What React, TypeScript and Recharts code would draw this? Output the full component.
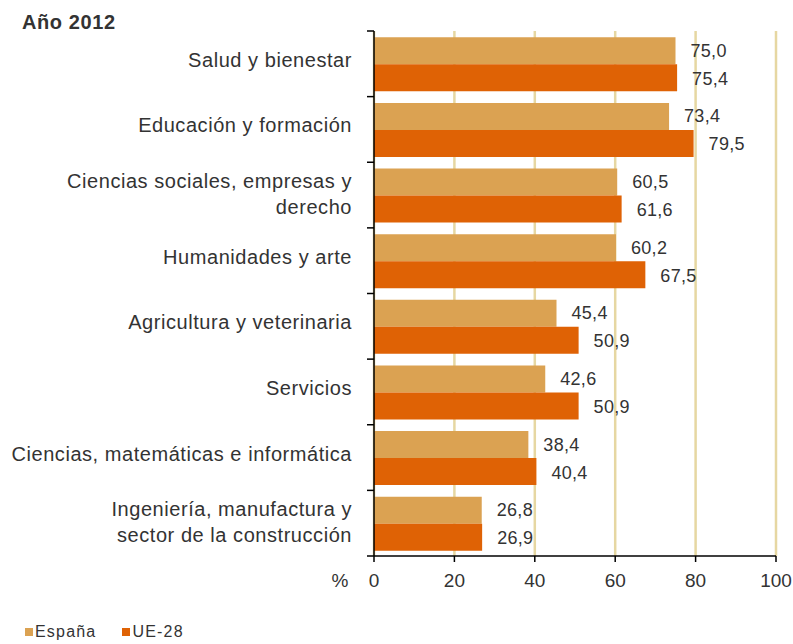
import React from "react";
import { BarChart, Bar, XAxis, YAxis, CartesianGrid, LabelList } from "recharts";

const categories = [
  "Salud y bienestar",
  "Educación y formación",
  "Ciencias sociales, empresas y\nderecho",
  "Humanidades y arte",
  "Agricultura y veterinaria",
  "Servicios",
  "Ciencias, matemáticas e informática",
  "Ingeniería, manufactura y\nsector de la construcción",
];
const espana = [75.0, 73.4, 60.5, 60.2, 45.4, 42.6, 38.4, 26.8];
const ue28 = [75.4, 79.5, 61.6, 67.5, 50.9, 50.9, 40.4, 26.9];
const xTicks = [0, 20, 40, 60, 80, 100];
const seriesNames = { espana: "España", ue28: "UE-28" };
const title = "Año 2012";

const data = categories.map((name, i) => ({ name, espana: espana[i], ue28: ue28[i] }));

const W = 793;
const H = 644;
const TOP = 31;
const BOTTOM_AXIS = 556;
const LEFT = 374;
const RIGHT = 776;
const X_AXIS_H = 40;
const BAND = (BOTTOM_AXIS - TOP) / categories.length;

const FONT = "'Liberation Sans', Arial, sans-serif";
const TEXT = "#333333";
const C_ES = "#DBA252";
const C_UE = "#DF6205";
const GRID = "#E6D7A2";

const fmt = (v: number) => v.toFixed(1).replace(".", ",");

const CategoryTick = (props: any) => {
  const { y, payload, index } = props;
  const lines: string[] = String(payload.value).split("\n");
  const textX = LEFT - 22;
  const ticks = [y - BAND / 2];
  if (index === categories.length - 1) ticks.push(y + BAND / 2);
  return (
    <g>
      {ticks.map((ty, k) => (
        <line key={k} x1={LEFT - 7} x2={LEFT} y1={ty} y2={ty} stroke="#000" strokeWidth={1.5} />
      ))}
      {lines.length === 1 ? (
        <text x={textX} y={y + 3} textAnchor="end" fontFamily={FONT} fontSize={20} letterSpacing={0.55} fill={TEXT}>
          {lines[0]}
        </text>
      ) : (
        <text textAnchor="end" fontFamily={FONT} fontSize={20} letterSpacing={0.55} fill={TEXT}>
          <tspan x={textX} y={y - 7}>{lines[0]}</tspan>
          <tspan x={textX} y={y + 19}>{lines[1]}</tspan>
        </text>
      )}
    </g>
  );
};

const NumberTick = (props: any) => {
  const { x, y, payload } = props;
  return (
    <g>
      {payload.value === 0 && (
        <text x={x - 34} y={y} dy="0.71em" textAnchor="middle" fontFamily={FONT} fontSize={19} fill={TEXT}>
          %
        </text>
      )}
      <text x={x} y={y} dy="0.71em" textAnchor="middle" fontFamily={FONT} fontSize={19} fill={TEXT}>
        {payload.value}
      </text>
    </g>
  );
};

const makeValueLabel = (dyOff: number) => (props: any) => {
  const { x, y, width, height, value } = props;
  return (
    <text
      x={x + width + 15}
      y={y + height / 2 + dyOff}
      textAnchor="start"
      fontFamily={FONT}
      fontSize={18}
      letterSpacing={0.3}
      fill={TEXT}
    >
      {fmt(Number(value))}
    </text>
  );
};

export default function App() {
  return (
    <div style={{ position: "absolute", left: 0, top: 0, width: W, height: H, background: "#fff" }}>
      <div
        style={{
          position: "absolute",
          left: 22,
          top: 10,
          fontFamily: FONT,
          fontWeight: "bold",
          fontSize: 20,
          letterSpacing: 0.6,
          color: TEXT,
          lineHeight: "24px",
        }}
      >
        {title}
      </div>
      <BarChart
        width={W}
        height={H}
        data={data}
        layout="vertical"
        margin={{ top: TOP, right: W - RIGHT, left: 0, bottom: H - BOTTOM_AXIS - X_AXIS_H }}
        barCategoryGap={6.3}
        barGap={0}
      >
        <CartesianGrid horizontal={false} vertical={true} stroke={GRID} strokeWidth={2.5} />
        <XAxis
          type="number"
          domain={[0, 100]}
          ticks={xTicks}
          interval={0}
          height={X_AXIS_H}
          axisLine={{ stroke: "#000", strokeWidth: 1.5 }}
          tickLine={{ stroke: "#000", strokeWidth: 1.5 }}
          tickSize={6}
          tickMargin={12}
          tick={<NumberTick />}
        />
        <YAxis
          type="category"
          dataKey="name"
          width={LEFT}
          interval={0}
          axisLine={{ stroke: "#000", strokeWidth: 1.5 }}
          tickLine={false}
          tickSize={0}
          tick={<CategoryTick />}
        />
        <Bar dataKey="espana" name={seriesNames.espana} fill={C_ES} isAnimationActive={false}>
          <LabelList dataKey="espana" content={makeValueLabel(6)} />
        </Bar>
        <Bar dataKey="ue28" name={seriesNames.ue28} fill={C_UE} isAnimationActive={false}>
          <LabelList dataKey="ue28" content={makeValueLabel(7)} />
        </Bar>
      </BarChart>
      <div
        style={{
          position: "absolute",
          left: 25,
          top: 623,
          display: "flex",
          alignItems: "center",
          fontFamily: FONT,
          fontSize: 16,
          color: TEXT,
          lineHeight: "18px",
        }}
      >
        <span style={{ width: 8, height: 8, background: C_ES, display: "inline-block", marginRight: 2 }} />
        <span style={{ letterSpacing: 1.2 }}>{seriesNames.espana}</span>
        <span style={{ width: 8, height: 8, background: C_UE, display: "inline-block", marginLeft: 26, marginRight: 2 }} />
        <span style={{ letterSpacing: 1.2 }}>{seriesNames.ue28}</span>
      </div>
    </div>
  );
}
